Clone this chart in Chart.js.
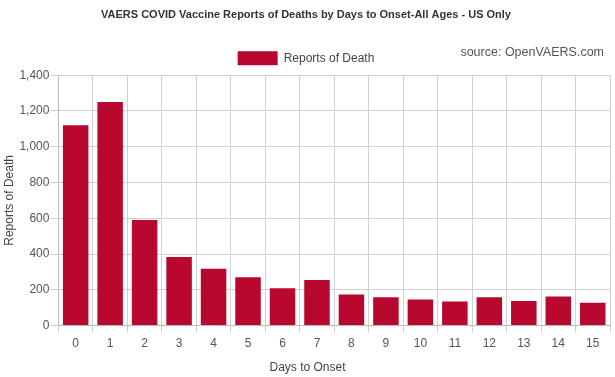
<!DOCTYPE html>
<html lang="en">
  <head>
    <meta charset="UTF-8" />
    <title>VAERS Deaths by Days to Onset</title>
    <style>
      * { margin: 0; padding: 0; }
      body { background: #fff; }
      .chartBox { width: 615px; height: 377px; }
    </style>
  </head>
  <body>
    <div class="chartBox">
      <canvas id="myChart"></canvas>
    </div>

    <script src="https://cdn.jsdelivr.net/npm/chart.js"></script>

    <script>
      // data block
      const days = ["0", "1", "2", "3", "4", "5", "6", "7", "8", "9", "10", "11", "12", "13", "14", "15"];
      const deaths = [1120, 1250, 590, 383, 318, 270, 209, 255, 174, 159, 146, 135, 159, 137, 163, 128];
      const seriesLabel = "Reports of Death";

      const FONT = "'Liberation Sans', Arial, sans-serif";

      // extra text: source note + x axis title centred on the canvas
      const extraText = {
        id: "extraText",
        afterDraw(chart) {
          const { ctx, width } = chart;
          ctx.save();
          ctx.fillStyle = "#555";
          ctx.font = "12.5px " + FONT;
          ctx.textAlign = "right";
          ctx.textBaseline = "middle";
          ctx.fillText("source: OpenVAERS.com", 604, 53);
          ctx.font = "12px " + FONT;
          ctx.textAlign = "center";
          ctx.fillStyle = "#444";
          ctx.fillText("Days to Onset", width / 2, 368);
          ctx.restore();
        }
      };

      const config = {
        type: "bar",
        data: {
          labels: days,
          datasets: [
            {
              label: seriesLabel,
              data: deaths,
              backgroundColor: "#b8082f",
              borderWidth: 0,
              categoryPercentage: 0.74,
              barPercentage: 1.0
            }
          ]
        },
        options: {
          responsive: true,
          maintainAspectRatio: false,
          animation: false,
          layout: { padding: { left: 2, right: 5, top: 0, bottom: 22 } },
          plugins: {
            title: {
              display: true,
              text: "VAERS COVID Vaccine Reports of Deaths by Days to Onset-All Ages - US Only",
              color: "#333",
              font: { family: FONT, size: 11, weight: "bold" },
              padding: { top: 8, bottom: 20 }
            },
            legend: {
              display: true,
              labels: {
                boxWidth: 40,
                boxHeight: 14,
                color: "#444",
                font: { family: FONT, size: 12 }
              }
            },
            tooltip: { enabled: false }
          },
          scales: {
            x: {
              grid: { color: "#d0d0d0", tickLength: 7, offset: true },
              border: { color: "#bbb" },
              ticks: { color: "#555", font: { family: FONT, size: 12 }, padding: 4 }
            },
            y: {
              min: 0,
              max: 1400,
              grid: { color: "#d0d0d0", tickLength: 8 },
              border: { color: "#bbb" },
              ticks: {
                stepSize: 200,
                color: "#555",
                font: { family: FONT, size: 12 },
                padding: 1,
                callback: (v) => v.toLocaleString("en-US")
              },
              title: {
                display: true,
                text: "Reports of Death",
                color: "#444",
                font: { family: FONT, size: 12 },
                padding: { top: 0, bottom: 2 }
              }
            }
          }
        },
        plugins: [extraText]
      };

      const myChart = new Chart(document.getElementById("myChart"), config);
    </script>
  </body>
</html>
